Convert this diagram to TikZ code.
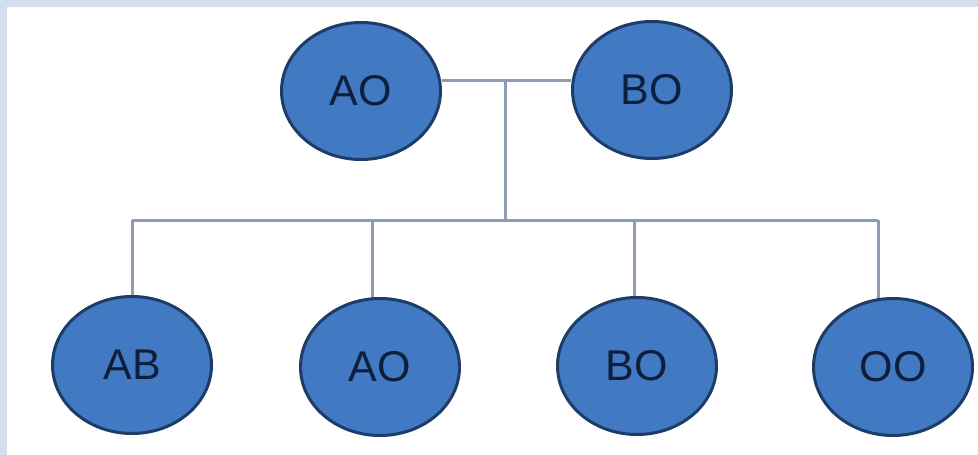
\documentclass[tikz,border=0pt]{standalone}
\usepackage{fontspec}
\setmainfont{Liberation Sans}
\usetikzlibrary{shapes.geometric}
\definecolor{frameblue}{HTML}{D4DFEE}
\definecolor{nodefill}{HTML}{4179C2}
\definecolor{nodedraw}{HTML}{1E3C68}
\definecolor{nodetext}{HTML}{0E1F3E}
\definecolor{linkcol}{HTML}{8C9CB1}
\pgfdeclarelayer{back}
\pgfdeclarelayer{bg}
\pgfsetlayers{back,bg,main}
\tikzset{
  blob/.style={ellipse, draw=nodedraw, fill=nodefill, line width=3pt,
    minimum width=159pt, minimum height=137pt, inner sep=0pt,
    text=nodetext, font=\fontsize{43}{48}\selectfont},
  link/.style={draw=linkcol, line width=3pt}
}
\begin{document}
\begin{tikzpicture}[x=1pt,y=-1pt]
\useasboundingbox (0,0) rectangle (978,455);
\begin{pgfonlayer}{back}
\fill[frameblue] (0,0) rectangle (978,455);
\fill[white] (7,7) rectangle (978,455);
\end{pgfonlayer}
% parents
\node[blob] (pAO) at (361,91) {AO};
\node[blob] (pBO) at (652,90) {BO};
% children
\node[blob] (cAB) at (132,365) {AB};
\node[blob] (cAO) at (380,367) {AO};
\node[blob] (cBO) at (637,366) {BO};
\node[blob] (cOO) at (893,367) {OO};
% junctions
\coordinate (top) at (505,80);
\coordinate (bar) at (505,220);
\coordinate (s1) at (132,220);
\coordinate (s2) at (372,220);
\coordinate (s3) at (634,220);
\coordinate (s4) at (878,220);
\begin{pgfonlayer}{bg}
\draw[link] (top -| pAO.east) -- (top -| pBO.west);
\draw[link] (top) -- (bar);
\draw[link] (s1) -- (s4);
\draw[link] (s1) -- (s1 |- cAB.north);
\draw[link] (s2) -- (s2 |- cAO.center);
\draw[link] (s3) -- (s3 |- cBO.center);
\draw[link] (s4) -- (s4 |- cOO.center);
\end{pgfonlayer}
\end{tikzpicture}
\end{document}
